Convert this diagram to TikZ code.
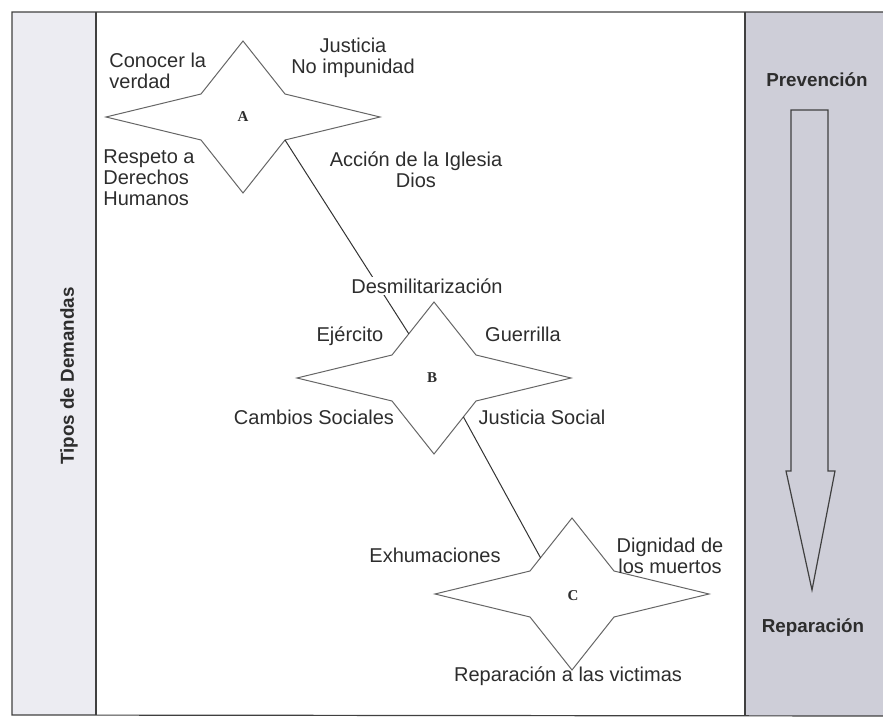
\documentclass[tikz,border=0pt]{standalone}
\usepackage{fontspec}
\setmainfont{Liberation Sans}
\newfontfamily\letterfont{Liberation Serif}
\usetikzlibrary{calc}

\definecolor{leftpanel}{RGB}{236,236,242}
\definecolor{rightpanel}{RGB}{206,206,216}
\definecolor{ink}{RGB}{45,45,45}

% four-pointed star with named corners
\newcommand{\demstar}[2]{%
  \begin{scope}[shift={(#2)}]
    \draw[starline] (-137,0) coordinate (#1-l) -- (-42,-23) coordinate (#1-nw)
      -- (0,-76) coordinate (#1-t) -- (42,-23) coordinate (#1-ne)
      -- (137,0) coordinate (#1-r) -- (42,23) coordinate (#1-se)
      -- (0,76) coordinate (#1-b) -- (-42,23) coordinate (#1-sw) -- cycle;
  \end{scope}}

\begin{document}
\begin{tikzpicture}[x=0.5pt, y=-0.5pt,
  frame/.style={draw=black!75, line width=0.6pt},
  starline/.style={draw=black!60, line width=0.5pt, fill=white},
  link/.style={draw=black!80, line width=0.5pt},
  demand/.style={text=ink, font=\fontsize{10}{10.5}\selectfont, inner sep=1pt},
  starlbl/.style={text=ink, font=\letterfont\bfseries\fontsize{7.5}{8}\selectfont},
  pole/.style={text=ink, font=\bfseries\fontsize{9.4}{10}\selectfont}]

\useasboundingbox (0,0) rectangle (883,721);

% Draw the panels
\fill[leftpanel] (12,12) rectangle (96,715);
\fill[rightpanel] (745,12) rectangle (883,716);
\draw[frame] (883,12) -- (12,12) -- (12,715) -- (883,716);
\draw[frame] (96,12) -- (96,715);
\draw[frame] (745,12) -- (745,716);

% Side titles
\node[pole, rotate=90] (tipos) at (69,376) {Tipos de Demandas};
\node[pole] (prev) at (817,80) {Prevención};
\node[pole] (repar) at (813,628) {Reparación};

% Hollow arrow from prevention down to reparation
\draw[frame, fill=none] (791,110) -- (828,110) -- (828,471) -- (835,471)
  -- (812,590) -- (786,471) -- (791,471) -- cycle;

% Stars A, B and C
\demstar{A}{243,117}
\demstar{B}{434,378}
\demstar{C}{572,594}
\node[starlbl] (A) at (243,117) {A};
\node[starlbl] (B) at (432,378) {B};
\node[starlbl] (C) at (573,596) {C};

% Connectors between the stars
\coordinate (B-in) at ($(B-nw)!0.4!(B-t)$);
\coordinate (B-out) at ($(B-se)!0.3!(B-b)$);
\coordinate (C-in) at ($(C-nw)!0.25!(C-t)$);
\draw[link] (A-se) -- (B-in);
\draw[link] (B-out) -- (C-in);

% Demands round star A
\node[demand, align=left, anchor=west] (verdad) at (107,71) {Conocer la\\verdad};
\node[demand, align=center] (justicia) at (353,58) {Justicia\\No impunidad};
\node[demand, align=left, anchor=west] (respeto) at (101,178) {Respeto a\\Derechos\\Humanos};
\node[demand, align=center] (iglesia) at (416,170) {Acción de la Iglesia\\Dios};

% Demands round star B
\node[demand, fill=white] (desmil) at (427,286) {Desmilitarización};
\node[demand] (ejercito) at (350,336) {Ejército};
\node[demand] (guerrilla) at (523,334) {Guerrilla};
\node[demand] (cambios) at (314,417) {Cambios Sociales};
\node[demand] (jsocial) at (542,417) {Justicia Social};

% Demands round star C
\node[demand] (exhum) at (435,555) {Exhumaciones};
\node[demand, align=center] (dignidad) at (670,556) {Dignidad de\\los muertos};
\node[demand] (victimas) at (568,676) {Reparación a las victimas};

\end{tikzpicture}
\end{document}
